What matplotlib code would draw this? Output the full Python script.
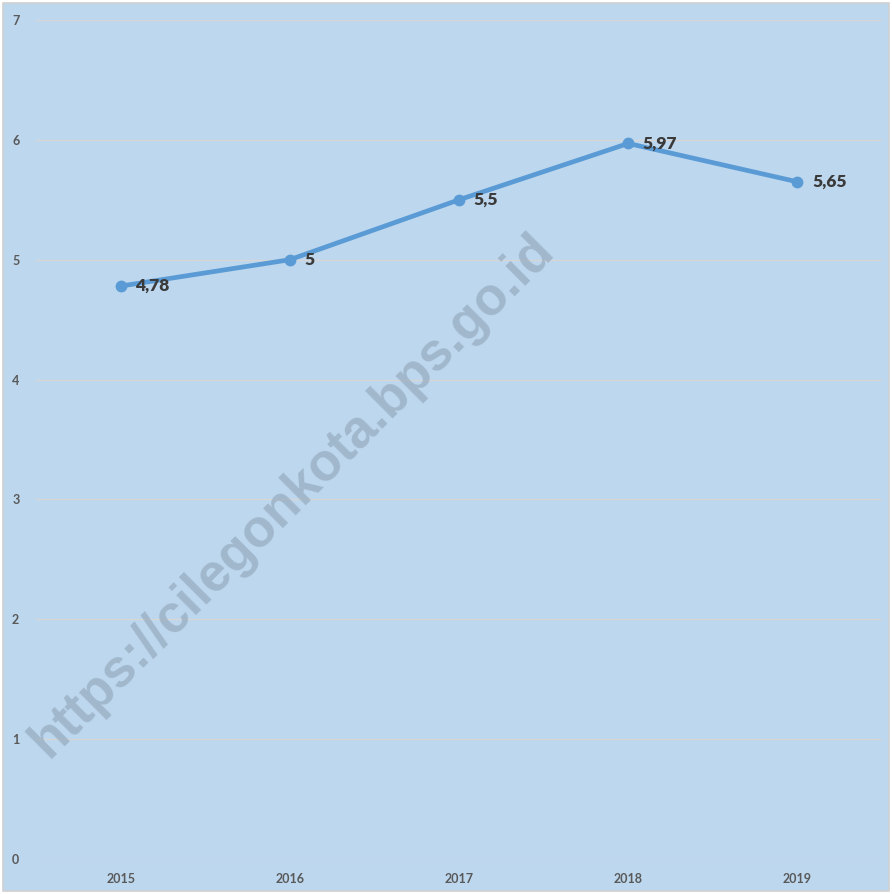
import matplotlib
matplotlib.use('Agg')
import matplotlib.pyplot as plt
from matplotlib.patches import Rectangle

years = ['2015', '2016', '2017', '2018', '2019']
values = [4.78, 5.0, 5.5, 5.97, 5.65]
value_labels = ['4,78', '5', '5,5', '5,97', '5,65']
y_ticks = [0, 1, 2, 3, 4, 5, 6, 7]

plt.rcParams['font.family'] = ['Lato', 'DejaVu Sans']

fig = plt.figure(figsize=(8.92, 8.94), dpi=100, facecolor='white')
# chart area background with thin grey border
fig.patches.append(Rectangle((3 / 892, 3 / 894), 886 / 892, 888 / 894, transform=fig.transFigure,
                             facecolor='#BDD7EE', edgecolor='#D0D0D0', linewidth=1.2, zorder=-10))

ax = fig.add_axes([36 / 892, 35 / 894, 846 / 892, 839 / 894])
ax.set_facecolor('none')
x = list(range(len(years)))
ax.plot(x, values, color='#5B9BD5', linewidth=3.4, marker='o', markersize=7.5, zorder=3)

for xi, v, lab in zip(x, values, value_labels):
    ax.annotate(lab, (xi, v), xytext=(10.5, 0), textcoords='offset points', ha='left', va='center',
                fontsize=12.5, fontweight='heavy', color='#3A3A3A', zorder=4)

ax.set_xlim(-0.5, len(years) - 0.5)
ax.set_ylim(0, 7)
ax.set_yticks(y_ticks)
ax.set_xticks(x)
ax.set_xticklabels(years)
ax.tick_params(axis='both', length=0, labelsize=9, labelcolor='#595959')
ax.tick_params(axis='y', pad=12)
ax.tick_params(axis='x', pad=10)
for lab in ax.get_xticklabels() + ax.get_yticklabels():
    lab.set_fontweight('bold')
ax.grid(axis='y', color='#D6D6D6', linewidth=1.0)
ax.set_axisbelow(True)
for s in ax.spines.values():
    s.set_visible(False)

# watermark
fig.text(292 / 892, 1 - 496 / 894, 'https://cilegonkota.bps.go.id', rotation=45, ha='center', va='center',
         fontsize=38, fontweight='bold', color='#8FA3B5', alpha=0.6, family=['Liberation Sans', 'DejaVu Sans'],
         zorder=1)

fig.savefig('out.png', dpi=100, facecolor='white')
